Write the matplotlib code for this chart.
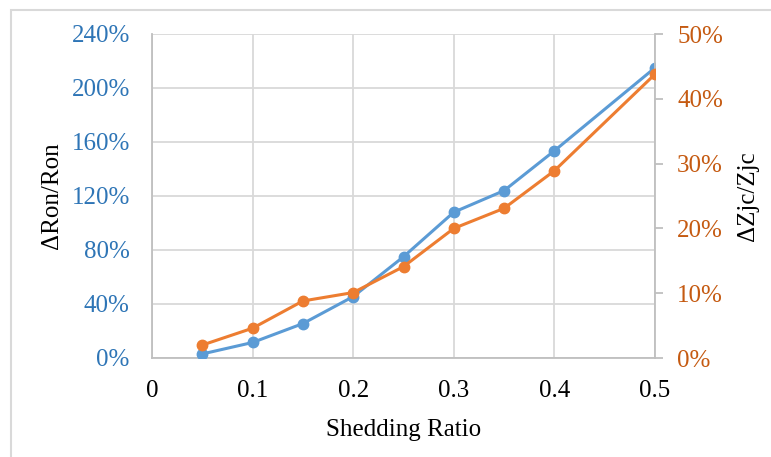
import matplotlib
matplotlib.use("Agg")
import matplotlib.pyplot as plt
import matplotlib.ticker as mticker
from matplotlib.patches import Rectangle

# ─── Data ────────────────────────────────────────────────────────────────
shedding_ratio = [0.05, 0.10, 0.15, 0.20, 0.25, 0.30, 0.35, 0.40, 0.50]
delta_ron = [3.0, 11.5, 25.5, 45.5, 75.0, 108.0, 124.0, 153.5, 215.0]   # %
delta_zjc = [2.0, 4.6, 8.8, 10.1, 14.1, 20.0, 23.1, 28.9, 43.8]          # %

left_ticks = [0, 40, 80, 120, 160, 200, 240]
right_ticks = [0, 10, 20, 30, 40, 50]
x_ticks = [0, 0.1, 0.2, 0.3, 0.4, 0.5]

BLUE = "#5B9BD5"
ORANGE = "#ED7D31"
BLUE_TXT = "#2E75B6"
ORANGE_TXT = "#C55A11"
GRID = "#D9D9D9"

plt.rcParams["font.family"] = ["Liberation Serif", "DejaVu Serif"]

fig = plt.figure(figsize=(7.71, 4.57), dpi=100)
W, H = 771, 457
ax = fig.add_axes([152 / W, 1 - 358 / H, (655 - 152) / W, (358 - 34) / H])
ax2 = ax.twinx()

# outer chart frame (cut at right/bottom edges like the reference)
fig.patches.append(Rectangle((11 / W, -0.1), 1.2, 1 - 10 / H + 0.1,
                             transform=fig.transFigure, fill=False,
                             edgecolor=GRID, lw=1.5, zorder=0))

ax.plot(shedding_ratio, delta_ron, color=BLUE, lw=2.2, marker="o",
        markersize=7.5, zorder=3)
ax2.plot(shedding_ratio, delta_zjc, color=ORANGE, lw=2.2, marker="o",
         markersize=7.5, zorder=3)

ax.set_xlim(0, 0.5)
ax.set_ylim(0, 240)
ax2.set_ylim(0, 50)
ax.set_xticks(x_ticks)
ax.set_xticklabels(["0", "0.1", "0.2", "0.3", "0.4", "0.5"])
ax.set_yticks(left_ticks)
ax2.set_yticks(right_ticks)
ax.yaxis.set_major_formatter(mticker.FuncFormatter(lambda v, p: f"{v:.0f}%"))
ax2.yaxis.set_major_formatter(mticker.FuncFormatter(lambda v, p: f"{v:.0f}%"))

ax.grid(True, color=GRID, lw=1.3)
ax.set_axisbelow(True)
for s in ["top"]:
    ax.spines[s].set_visible(False)
    ax2.spines[s].set_visible(False)
for sp in [ax.spines["left"], ax.spines["bottom"], ax2.spines["right"]]:
    sp.set_color("#BFBFBF")
    sp.set_linewidth(1.3)
ax.spines["right"].set_visible(False)
ax2.spines["left"].set_visible(False)
ax2.spines["bottom"].set_visible(False)

ax.tick_params(axis="x", length=0, labelsize=18, pad=16, labelcolor="black")
ax.tick_params(axis="y", length=0, labelsize=18, pad=16, labelcolor=BLUE_TXT)
ax2.tick_params(axis="y", length=6, width=1.3, color="#BFBFBF",
                labelsize=18, pad=10, labelcolor=ORANGE_TXT)

ax.set_xlabel("Shedding Ratio", fontsize=18, labelpad=12)
ax.set_ylabel("ΔRon/Ron", fontsize=18, labelpad=6)
ax2.set_ylabel("ΔZjc/Zjc", fontsize=18, labelpad=10)

fig.savefig("out.png", dpi=100)
